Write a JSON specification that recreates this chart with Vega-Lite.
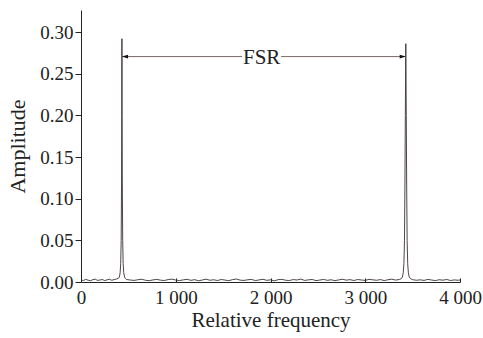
{
  "$schema": "https://vega.github.io/schema/vega-lite/v6.json",
  "width": 379,
  "height": 272,
  "autosize": "none",
  "padding": {"left": 81, "top": 10, "right": 23, "bottom": 56},
  "background": "white",
  "config": {
    "view": {"stroke": null},
    "font": "Liberation Serif",
    "axis": {"grid": false, "domainColor": "#222", "tickColor": "#222", "labelColor": "#222", "titleColor": "#222", "labelFont": "Liberation Serif", "titleFont": "Liberation Serif", "titleFontWeight": "normal", "labelFontSize": 19, "titleFontSize": 21}
  },
  "datasets": {
    "spec": [
      {"f": 0, "a": 0.0025}, {"f": 25, "a": 0.0018}, {"f": 50, "a": 0.0031}, {"f": 75, "a": 0.0022}, {"f": 100, "a": 0.0015}, {"f": 125, "a": 0.0028}, {"f": 150, "a": 0.0034}, {"f": 175, "a": 0.0019}, {"f": 200, "a": 0.0024}, {"f": 225, "a": 0.0030}, {"f": 250, "a": 0.0017}, {"f": 275, "a": 0.0026}, {"f": 300, "a": 0.0033}, {"f": 325, "a": 0.0021}, {"f": 350, "a": 0.0029}, {"f": 375, "a": 0.0036}, {"f": 395, "a": 0.0045},
      {"f": 405, "a": 0.006}, {"f": 413, "a": 0.011}, {"f": 419, "a": 0.022}, {"f": 424, "a": 0.05}, {"f": 428, "a": 0.12}, {"f": 430, "a": 0.2}, {"f": 432, "a": 0.292}, {"f": 434, "a": 0.2}, {"f": 436, "a": 0.12}, {"f": 440, "a": 0.05}, {"f": 445, "a": 0.022}, {"f": 451, "a": 0.011}, {"f": 460, "a": 0.006}, {"f": 470, "a": 0.004},
      {"f": 480, "a": 0.0030}, {"f": 520, "a": 0.0024}, {"f": 560, "a": 0.0019}, {"f": 600, "a": 0.0027}, {"f": 640, "a": 0.0033}, {"f": 680, "a": 0.0021}, {"f": 720, "a": 0.0016}, {"f": 760, "a": 0.0025}, {"f": 800, "a": 0.0031}, {"f": 840, "a": 0.0022}, {"f": 880, "a": 0.0018}, {"f": 920, "a": 0.0029}, {"f": 960, "a": 0.0035}, {"f": 1000, "a": 0.0023}, {"f": 1040, "a": 0.0017}, {"f": 1080, "a": 0.0026}, {"f": 1120, "a": 0.0032}, {"f": 1160, "a": 0.0020}, {"f": 1200, "a": 0.0028}, {"f": 1240, "a": 0.0015}, {"f": 1280, "a": 0.0024}, {"f": 1320, "a": 0.0034}, {"f": 1360, "a": 0.0021}, {"f": 1400, "a": 0.0027}, {"f": 1440, "a": 0.0018}, {"f": 1480, "a": 0.0030}, {"f": 1520, "a": 0.0023}, {"f": 1560, "a": 0.0016}, {"f": 1600, "a": 0.0029}, {"f": 1640, "a": 0.0036}, {"f": 1680, "a": 0.0022}, {"f": 1720, "a": 0.0019}, {"f": 1760, "a": 0.0027}, {"f": 1800, "a": 0.0031}, {"f": 1840, "a": 0.0017}, {"f": 1880, "a": 0.0025}, {"f": 1920, "a": 0.0033}, {"f": 1960, "a": 0.0020}, {"f": 2000, "a": 0.0026}, {"f": 2040, "a": 0.0014}, {"f": 2080, "a": 0.0028}, {"f": 2120, "a": 0.0032}, {"f": 2160, "a": 0.0021}, {"f": 2200, "a": 0.0018}, {"f": 2240, "a": 0.0029}, {"f": 2280, "a": 0.0024}, {"f": 2320, "a": 0.0035}, {"f": 2360, "a": 0.0019}, {"f": 2400, "a": 0.0026}, {"f": 2440, "a": 0.0030}, {"f": 2480, "a": 0.0017}, {"f": 2520, "a": 0.0023}, {"f": 2560, "a": 0.0031}, {"f": 2600, "a": 0.0020}, {"f": 2640, "a": 0.0027}, {"f": 2680, "a": 0.0016}, {"f": 2720, "a": 0.0025}, {"f": 2760, "a": 0.0033}, {"f": 2800, "a": 0.0022}, {"f": 2840, "a": 0.0028}, {"f": 2880, "a": 0.0018}, {"f": 2920, "a": 0.0030}, {"f": 2960, "a": 0.0024}, {"f": 3000, "a": 0.0019}, {"f": 3040, "a": 0.0032}, {"f": 3080, "a": 0.0026}, {"f": 3120, "a": 0.0021}, {"f": 3160, "a": 0.0029}, {"f": 3200, "a": 0.0017}, {"f": 3240, "a": 0.0027}, {"f": 3280, "a": 0.0034}, {"f": 3320, "a": 0.0023}, {"f": 3360, "a": 0.0030},
      {"f": 3380, "a": 0.004}, {"f": 3392, "a": 0.006}, {"f": 3401, "a": 0.011}, {"f": 3408, "a": 0.022}, {"f": 3414, "a": 0.05}, {"f": 3419, "a": 0.12}, {"f": 3423, "a": 0.2}, {"f": 3428, "a": 0.286}, {"f": 3433, "a": 0.2}, {"f": 3437, "a": 0.12}, {"f": 3442, "a": 0.05}, {"f": 3448, "a": 0.022}, {"f": 3455, "a": 0.011}, {"f": 3464, "a": 0.006}, {"f": 3478, "a": 0.004},
      {"f": 3500, "a": 0.0028}, {"f": 3540, "a": 0.0021}, {"f": 3580, "a": 0.0026}, {"f": 3620, "a": 0.0019}, {"f": 3660, "a": 0.0031}, {"f": 3700, "a": 0.0024}, {"f": 3740, "a": 0.0017}, {"f": 3780, "a": 0.0027}, {"f": 3820, "a": 0.0022}, {"f": 3860, "a": 0.0030}, {"f": 3900, "a": 0.0018}, {"f": 3940, "a": 0.0025}, {"f": 3980, "a": 0.0021}, {"f": 4000, "a": 0.0024}
    ],
    "rules": [
      {"f": 432, "f2": 1700, "a": 0.2705},
      {"f": 2112, "f2": 3428, "a": 0.2705}
    ],
    "heads": [
      {"f": 432, "a": 0.2705, "dir": "L"},
      {"f": 3428, "a": 0.2705, "dir": "R"}
    ],
    "label": [
      {"f": 1907, "a": 0.2705, "t": "FSR"}
    ]
  },
  "layer": [
    {
      "data": {"name": "spec"},
      "mark": {"type": "line", "color": "#3a3030", "strokeWidth": 0.9, "clip": true},
      "encoding": {
        "x": {"field": "f", "type": "quantitative", "scale": {"domain": [0, 4000], "nice": false}, "title": "Relative frequency",
          "axis": {"values": [0, 1000, 2000, 3000, 4000], "labelExpr": "replace(format(datum.value, ','), ',', ' ')", "tickSize": -4, "labelPadding": 10, "titlePadding": 2, "labelFlush": false}},
        "y": {"field": "a", "type": "quantitative", "scale": {"domain": [0, 0.3264], "nice": false, "zero": false}, "title": "Amplitude",
          "axis": {"values": [0, 0.05, 0.1, 0.15, 0.2, 0.25, 0.3], "format": ".2f", "tickSize": 6, "labelPadding": 2, "titlePadding": 10, "titleFontSize": 22}}
      }
    },
    {
      "data": {"name": "rules"},
      "mark": {"type": "rule", "color": "#7a6868", "strokeWidth": 1},
      "encoding": {
        "x": {"field": "f", "type": "quantitative"},
        "x2": {"field": "f2"},
        "y": {"field": "a", "type": "quantitative"}
      }
    },
    {
      "data": {"name": "heads"},
      "mark": {"type": "point", "filled": true, "color": "#111", "opacity": 1, "size": 150},
      "encoding": {
        "x": {"field": "f", "type": "quantitative"},
        "y": {"field": "a", "type": "quantitative"},
        "shape": {"field": "dir", "type": "nominal", "legend": null, "scale": {"domain": ["L", "R"], "range": ["M0,0L1,-0.3L1,0.3Z", "M0,0L-1,-0.3L-1,0.3Z"]}}
      }
    },
    {
      "data": {"name": "label"},
      "mark": {"type": "text", "font": "Liberation Serif", "fontSize": 21, "color": "#222", "baseline": "middle", "align": "center", "dy": 1},
      "encoding": {
        "x": {"field": "f", "type": "quantitative"},
        "y": {"field": "a", "type": "quantitative"},
        "text": {"field": "t"}
      }
    }
  ]
}
